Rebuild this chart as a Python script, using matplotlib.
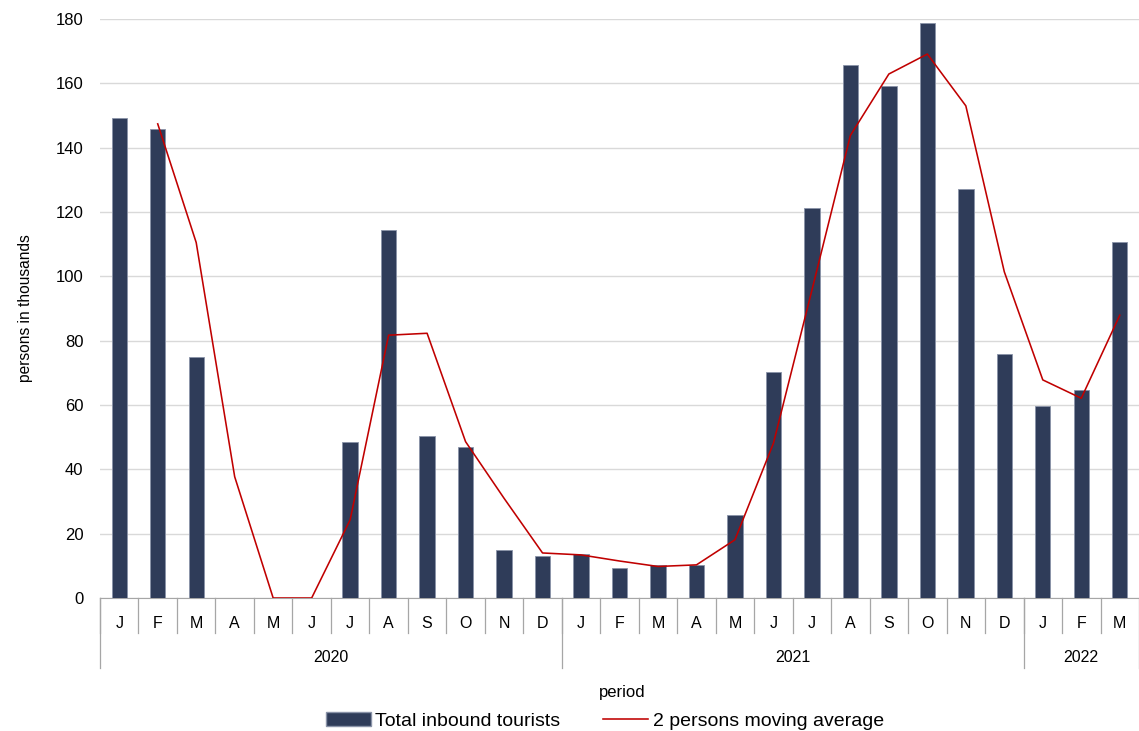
import matplotlib.pyplot as plt
import matplotlib.transforms as mtransforms
from matplotlib.patches import Patch
from matplotlib.lines import Line2D

plt.rcParams['font.family'] = ['Liberation Sans', 'DejaVu Sans']

# data
months = ['J', 'F', 'M', 'A', 'M', 'J', 'J', 'A', 'S', 'O', 'N', 'D',
          'J', 'F', 'M', 'A', 'M', 'J', 'J', 'A', 'S', 'O', 'N', 'D',
          'J', 'F', 'M']
years = ['2020', '2021', '2022']
year_lengths = [12, 12, 3]

tourists = [149.3, 145.8, 75.0, 0, 0, 0, 48.6, 114.4, 50.4, 47.0, 15.0, 13.0,
            13.7, 9.2, 10.3, 10.2, 25.9, 70.3, 121.2, 165.8, 159.2, 178.9, 127.0, 75.7,
            59.7, 64.6, 110.8]
# moving average starts at the second month
moving_avg = [147.4, 110.5, 37.7, 0, 0, 24.3, 81.7, 82.3, 48.6, 31.0, 14.0,
              13.4, 11.5, 9.8, 10.3, 18.1, 48.1, 95.7, 143.8, 162.9, 169.1, 153.0, 101.4,
              67.8, 62.1, 87.9]

W, H = 1139, 731
fig = plt.figure(figsize=(W / 100, H / 100), dpi=100)
ax = fig.add_axes([100 / W, (H - 598) / H, 1039 / W, 579 / H])

x = list(range(len(months)))
edge_w = [0.6 if v > 0 else 0 for v in tourists]
ax.bar(x, tourists, width=0.4, color='#2f3c59', edgecolor='#8a93a8', linewidth=edge_w, zorder=3)
ax.plot(x[1:], moving_avg, color='#c00000', linewidth=1.15, zorder=4)

ax.set_xlim(-0.5, len(months) - 0.5)
ax.set_ylim(0, 180)
ax.set_yticks(range(0, 181, 20))
ax.tick_params(axis='y', length=0, labelsize=12, pad=12)
ax.set_xticks([])
ax.grid(axis='y', color='#d9d9d9', linewidth=1, zorder=0)
for s in ['top', 'right', 'left']:
    ax.spines[s].set_visible(False)
ax.spines['bottom'].set_color('#a6a6a6')

ax.set_ylabel('persons in thousands', fontsize=11.2, labelpad=16)

# category axis: months and years below the plot
trans = mtransforms.blended_transform_factory(ax.transData, fig.transFigure)
y_axis = (H - 598) / H
y_month = (H - 633) / H
y_year = (H - 668) / H
for i, m in enumerate(months):
    ax.plot([i - 0.5, i - 0.5], [y_axis, y_month], transform=trans, color='#a6a6a6',
            linewidth=0.9, clip_on=False)
    ax.text(i, (H - 623) / H, m, transform=trans, ha='center', va='center', fontsize=11.5)

start = -0.5
for yr, n in zip(years, year_lengths):
    ax.plot([start, start], [y_axis, y_year], transform=trans, color='#a6a6a6',
            linewidth=0.9, clip_on=False)
    ax.text(start + n / 2, (H - 658) / H, yr, transform=trans, ha='center', va='center', fontsize=11.5)
    start += n
ax.plot([start, start], [y_axis, y_year], transform=trans, color='#a6a6a6',
        linewidth=0.9, clip_on=False)

fig.text(622 / W, (H - 693) / H, 'period', ha='center', va='center', fontsize=12)

handles = [Patch(facecolor='#2f3c59', edgecolor='#8a93a8'),
           Line2D([0], [0], color='#c00000', linewidth=1.15)]
fig.legend(handles, ['Total inbound tourists', '2 persons moving average'],
           loc='center', bbox_to_anchor=(605 / W, (H - 721) / H), ncol=2, frameon=False,
           fontsize=14, handlelength=2.3, columnspacing=2.2, handletextpad=0.25)

fig.savefig('out.png', dpi=100)
